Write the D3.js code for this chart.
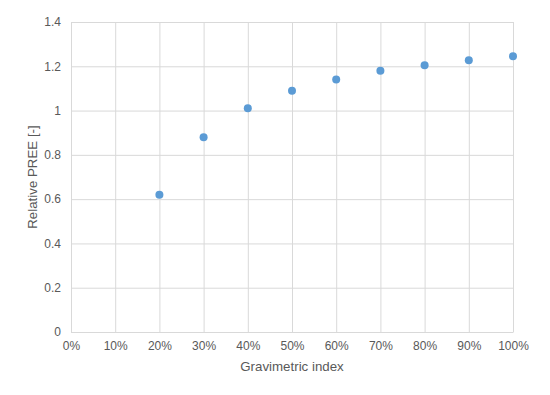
<!DOCTYPE html>
<html>
<head>
<meta charset="utf-8">
<script src="https://cdn.jsdelivr.net/npm/d3@7"></script>
<style>
  body { margin: 0; background: #fff; }
  svg text { font-family: "Liberation Sans", Arial, sans-serif; fill: #595959; }
</style>
</head>
<body>
<svg id="chart" width="550" height="395"></svg>
<script>
// Chart data
var gravIndex = [0.2, 0.3, 0.4, 0.5, 0.6, 0.7, 0.8, 0.9, 1.0];
var relPree = [0.62, 0.88, 1.01, 1.09, 1.14, 1.18, 1.205, 1.227, 1.245];
var xTicks = [0, 0.1, 0.2, 0.3, 0.4, 0.5, 0.6, 0.7, 0.8, 0.9, 1.0];
var yTicks = [0, 0.2, 0.4, 0.6, 0.8, 1, 1.2, 1.4];

var svg = d3.select('#chart');

// Plot area
var margin = {top: 22, right: 37, bottom: 63, left: 71};
var width = 550 - margin.left - margin.right;
var height = 395 - margin.top - margin.bottom;

var g = svg.append('g')
    .attr('transform', 'translate(' + margin.left + ',' + margin.top + ')');

var x = d3.scaleLinear().domain([0, 1]).range([0, width]);
var y = d3.scaleLinear().domain([0, 1.4]).range([height, 0]);

// Gridlines
g.append('g')
    .call(d3.axisLeft(y).tickValues(yTicks).tickSize(-width).tickFormat(''))
    .call(function(s) { s.select('.domain').remove(); })
    .selectAll('line')
    .attr('stroke', '#d9d9d9');

g.append('g')
    .attr('transform', 'translate(0,' + height + ')')
    .call(d3.axisBottom(x).tickValues(xTicks).tickSize(-height).tickFormat(''))
    .call(function(s) { s.select('.domain').remove(); })
    .selectAll('line')
    .attr('stroke', '#d9d9d9');

// Y axis labels
var yAxis = g.append('g')
    .call(d3.axisLeft(y).tickValues(yTicks).tickSize(0).tickPadding(10)
        .tickFormat(function(d) { return d3.format('')(+d.toFixed(1)); }));
yAxis.select('.domain').remove();
yAxis.selectAll('text').attr('font-size', '12px').style('fill', '#595959');

// X axis
var xAxis = g.append('g')
    .attr('transform', 'translate(0,' + height + ')')
    .call(d3.axisBottom(x).tickValues(xTicks).tickSize(0).tickPadding(9)
        .tickFormat(d3.format('.0%')));
xAxis.select('.domain').attr('stroke', '#d9d9d9');
xAxis.selectAll('text').attr('font-size', '12px').style('fill', '#595959');

// Points
g.selectAll('circle.pt')
    .data(gravIndex)
    .enter().append('circle')
    .attr('class', 'pt')
    .attr('cx', function(d) { return x(d); })
    .attr('cy', function(d, i) { return y(relPree[i]); })
    .attr('r', 4)
    .attr('fill', '#5b9bd5');

// Axis titles
svg.append('text')
    .attr('x', margin.left + width / 2)
    .attr('y', 371)
    .attr('text-anchor', 'middle')
    .attr('font-size', '13.3px')
    .text('Gravimetric index');

svg.append('text')
    .attr('transform', 'translate(37,' + (margin.top + height / 2) + ') rotate(-90)')
    .attr('text-anchor', 'middle')
    .attr('font-size', '13.3px')
    .text('Relative PREE [-]');
</script>
</body>
</html>
